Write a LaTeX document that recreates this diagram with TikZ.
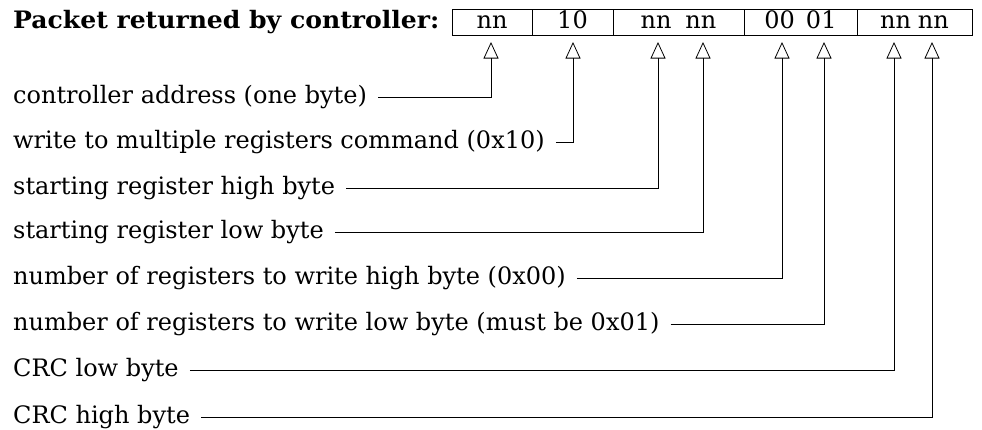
\documentclass[tikz,border=0pt]{standalone}
\usepackage{fontspec}
\setmainfont{DejaVu Serif}[BoldFeatures={FakeStretch=1.045}]
\usetikzlibrary{arrows.meta}
\tikzset{
  cell/.style={draw, line width=1pt, inner xsep=0pt, inner ysep=0pt, minimum height=26pt, text height=17pt, text depth=4pt},
  field/.style={anchor=west, inner xsep=11pt, inner ysep=0pt},
  ptr/.style={line width=0.8pt, -{Triangle[open, length=16.5pt, width=15pt]}}
}
\begin{document}
\begin{tikzpicture}[x=1pt,y=-1pt,font=\fontsize{24}{28}\selectfont]
\useasboundingbox (0,0) rectangle (982,429);
\node[anchor=base west, inner sep=0pt] (title) at (13,28) {\textbf{Packet returned by controller:}};
\node[cell, minimum width=80pt] (f1) at (492,22) {nn};
\node[cell, minimum width=81pt] (f2) at (572.5,22) {10};
\node[cell, minimum width=131pt] (f3) at (678.5,22) {nn\hspace{14pt}nn};
\node[cell, minimum width=113pt] (f4) at (800.5,22) {00\hspace{11pt}01};
\node[cell, minimum width=115pt] (f5) at (914.5,22) {nn\hspace{7pt}nn};
\coordinate (b1) at (491,42);
\coordinate (b2) at (573,42);
\coordinate (b3) at (658,42);
\coordinate (b4) at (703,42);
\coordinate (b5) at (782,42);
\coordinate (b6) at (824,42);
\coordinate (b7) at (894,42);
\coordinate (b8) at (932,42);
\node[field] (addr) at (2,97) {controller address (one byte)};
\node[field] (cmd) at (2,142) {write to multiple registers command (0x10)};
\node[field] (reghi) at (2,188) {starting register high byte};
\node[field] (reglo) at (2,232) {starting register low byte};
\node[field] (numhi) at (2,278) {number of registers to write high byte (0x00)};
\node[field] (numlo) at (2,324) {number of registers to write low byte (must be 0x01)};
\node[field] (crclo) at (2,370) {CRC low byte};
\node[field] (crchi) at (2,417) {CRC high byte};
\draw[ptr] (addr.east) -| (b1);
\draw[ptr] (cmd.east) -| (b2);
\draw[ptr] (reghi.east) -| (b3);
\draw[ptr] (reglo.east) -| (b4);
\draw[ptr] (numhi.east) -| (b5);
\draw[ptr] (numlo.east) -| (b6);
\draw[ptr] (crclo.east) -| (b7);
\draw[ptr] (crchi.east) -| (b8);
\end{tikzpicture}
\end{document}
